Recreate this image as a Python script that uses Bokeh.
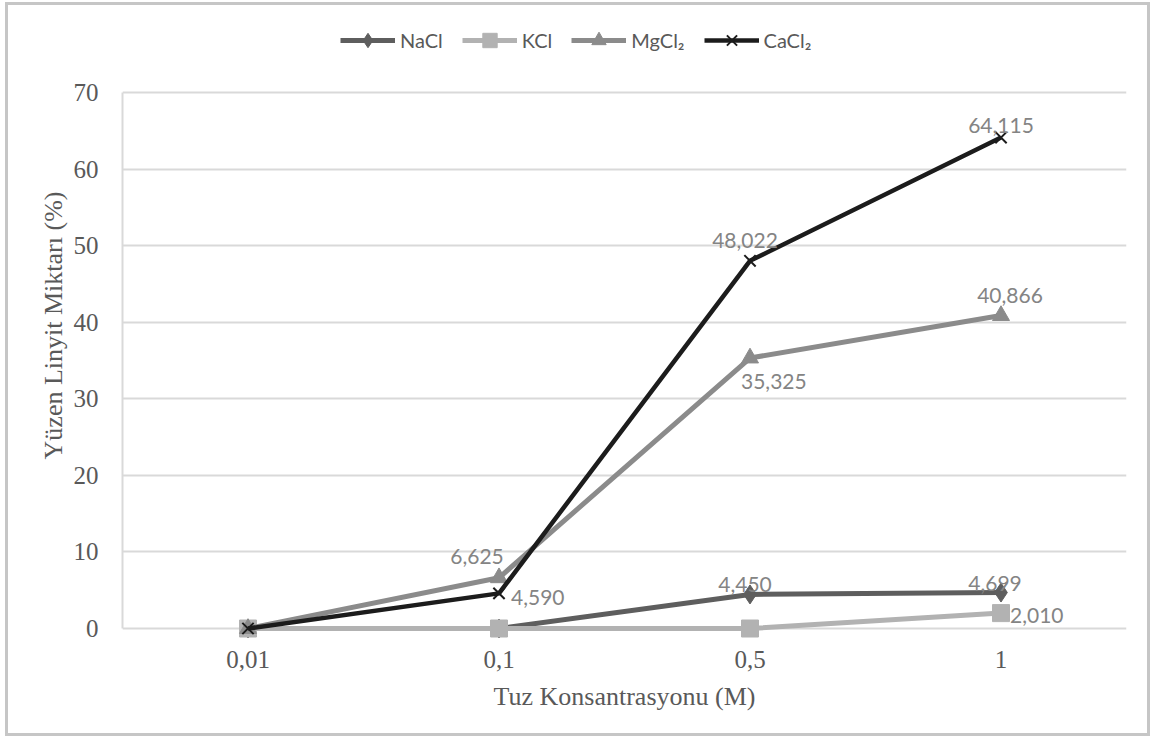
from bokeh.plotting import figure
from bokeh.models import FactorRange, Range1d, FixedTicker, Legend, LegendItem, ColumnDataSource
from bokeh.core.properties import value
from bokeh.embed import file_html
from bokeh.resources import INLINE

# ---- data ----
concentrations = ["0,01", "0,1", "0,5", "1"]
series_names = ["NaCl", "KCl", "MgCl₂", "CaCl₂"]
nacl = [0.0, 0.0, 4.450, 4.699]
kcl = [0.0, 0.0, 0.0, 2.010]
mgcl2 = [0.0, 6.625, 35.325, 40.866]
cacl2 = [0.0, 4.590, 48.022, 64.115]
y_ticks = [0, 10, 20, 30, 40, 50, 60, 70]
x_title = "Tuz Konsantrasyonu (M)"
y_title = "Yüzen Linyit Miktarı (%)"

# ---- styling ----
colors = ["#5e5e5e", "#b2b2b2", "#8b8b8b", "#1c1c1c"]
markers = ["diamond", "square", "triangle", "x"]
msizes = [19, 17, 17, 16]
lwidths = [5, 5, 5, 4.5]
# label offsets per (series index, point index): (x_offset, y_offset, align)
label_pos = {
    (0, 2): (-5, -10, "center"),
    (0, 3): (-6, -9, "center"),
    (1, 3): (9, 2, "left"),
    (2, 1): (-22, -21, "center"),
    (2, 2): (-9, 23, "left"),
    (2, 3): (9, -20, "center"),
    (3, 1): (12, 4, "left"),
    (3, 2): (-5, -20, "center"),
    (3, 3): (0, -12, "center"),
}

# frame extends a little beyond the 0..70 band so the legend and the markers
# sitting on 0 are not clipped; the axis line is bounded to 0..70
p = figure(width=1145, height=734, output_backend="svg", toolbar_location=None,
           x_range=FactorRange(factors=concentrations, range_padding=0),
           y_range=Range1d(-1.567, 80.71),
           min_border_left=114, min_border_right=27, min_border_top=5, min_border_bottom=99)
p.styles = {"border": "3px solid #c6c6c6", "margin-left": "5px", "margin-top": "2px"}
p.background_fill_color = "white"
p.border_fill_color = "white"
p.outline_line_color = None

p.xgrid.grid_line_color = None
p.ygrid.grid_line_color = "#d9d9d9"
p.ygrid.grid_line_width = 2
p.yaxis.ticker = FixedTicker(ticks=y_ticks)
p.yaxis.bounds = (0, 70)

for ax in (p.xaxis[0], p.yaxis[0]):
    ax.axis_line_color = "#d9d9d9"
    ax.axis_line_width = 2
    ax.major_tick_line_color = None
    ax.minor_tick_line_color = None
    ax.major_label_text_font = "Liberation Serif"
    ax.major_label_text_font_size = "25px"
    ax.major_label_text_color = "#595959"
    ax.axis_label_text_font = "Liberation Serif"
    ax.axis_label_text_font_size = "26px"
    ax.axis_label_text_font_style = "normal"
    ax.axis_label_text_color = "#595959"
p.xaxis.axis_line_color = None
p.xaxis.axis_label = x_title
p.yaxis.axis_label = y_title
p.xaxis.major_label_standoff = 4
p.yaxis.major_label_standoff = 18
p.xaxis.axis_label_standoff = 11
p.yaxis.axis_label_standoff = 3

all_series = [nacl, kcl, mgcl2, cacl2]
items = []
lx, ly, lt, lxo, lyo, la = [], [], [], [], [], []
for i, (name, vals) in enumerate(zip(series_names, all_series)):
    src = ColumnDataSource(dict(x=concentrations, y=vals))
    ln = p.line("x", "y", source=src, line_color=colors[i], line_width=lwidths[i])
    if markers[i] == "x":
        mk = p.scatter("x", "y", source=src, marker="x", size=msizes[i],
                       line_color=colors[i], line_width=2)
    else:
        mk = p.scatter("x", "y", source=src, marker=markers[i], size=msizes[i],
                       fill_color=colors[i], line_color=colors[i])
    items.append(LegendItem(label=name, renderers=[ln, mk]))
    for j, v in enumerate(vals):
        if (i, j) in label_pos:
            xo, yo, al = label_pos[(i, j)]
            lx.append(concentrations[j]); ly.append(v)
            lt.append(f"{v:.3f}".replace(".", ","))
            lxo.append(xo); lyo.append(yo); la.append(al)

lsrc = ColumnDataSource(dict(x=lx, y=ly, text=lt, xo=lxo, yo=lyo, align=la))
p.text("x", "y", text="text", source=lsrc, x_offset="xo", y_offset="yo",
       text_align="align", text_baseline="middle",
       text_font=value("Lato"), text_font_size="21px", text_color="#848484")

legend = Legend(items=items, orientation="horizontal", location=(218, 582),
                glyph_width=55, glyph_height=36, label_height=36,
                label_standoff=5, spacing=19, padding=0, margin=0,
                border_line_color=None, background_fill_alpha=0,
                label_text_font="Lato", label_text_font_size="20px",
                label_text_color="#595959")
p.add_layout(legend, "center")

open("out.html", "w").write(file_html(p, INLINE))
